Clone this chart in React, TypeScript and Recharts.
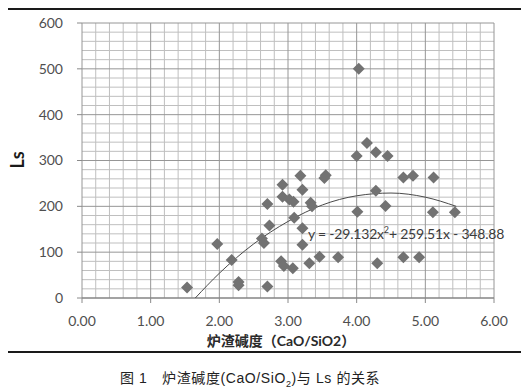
import {
  ComposedChart,
  Scatter,
  Line,
  XAxis,
  YAxis,
  ReferenceLine,
} from "recharts";

// slag basicity (CaO/SiO2) vs Ls
const BASICITY = [
  1.53, 1.97, 2.18, 2.28, 2.28, 2.62, 2.65, 2.7, 2.7, 2.73, 2.9, 2.92, 2.92, 2.94, 3.02,
  3.07, 3.08, 3.09, 3.18, 3.21, 3.21, 3.21, 3.31, 3.33, 3.35, 3.46, 3.53, 3.55, 3.73,
  4.0, 4.01, 4.03, 4.15, 4.28, 4.28, 4.3, 4.42, 4.45, 4.68, 4.68, 4.82, 4.91, 5.11,
  5.12, 5.43,
];
const LS = [
  23, 118, 83, 35, 28, 130, 120, 25, 205, 158, 80, 247, 221, 70, 215,
  65, 210, 175, 267, 236, 152, 116, 76, 208, 200, 90, 262, 268, 89,
  310, 188, 500, 338, 318, 234, 76, 201, 310, 263, 89, 267, 89, 187,
  263, 187,
];

// polynomial trend line, sampled from the drawn curve
const TREND_X = [1.65, 2.0, 2.5, 3.0, 3.5, 4.0, 4.5, 5.0, 5.45];
const TREND_Y = [0, 54, 118, 167, 203, 223, 229, 220, 200];

const X_TICKS = [0, 1, 2, 3, 4, 5, 6];
const Y_TICKS = [0, 100, 200, 300, 400, 500, 600];

const points = BASICITY.map((x, i) => ({ x, y: LS[i] }));
const trend = TREND_X.map((x, i) => ({ x, y: TREND_Y[i] }));

// minor grid: every 0.2 on x, every 20 on y
const minorX: number[] = [];
for (let i = 1; i < 30; i++) if (i % 5 !== 0) minorX.push(+(i * 0.2).toFixed(1));
const minorY: number[] = [];
for (let v = 20; v < 600; v += 20) if (v % 100 !== 0) minorY.push(v);

const FONT = "Lato, 'Open Sans', sans-serif";

function Diamond(props: { cx?: number; cy?: number }) {
  const { cx, cy } = props;
  if (cx == null || cy == null) return null;
  const r = 6;
  return (
    <path
      d={`M${cx},${cy - r}L${cx + r},${cy}L${cx},${cy + r}L${cx - r},${cy}Z`}
      fill="#727272"
    />
  );
}

export default function App() {
  return (
    <div
      style={{
        position: "relative",
        width: 529,
        height: 389,
        margin: "-8px 0 0 -8px",
        background: "#fff",
        fontFamily: FONT,
      }}
    >
      <div
        style={{
          position: "absolute",
          left: 4,
          top: 8,
          width: 520,
          height: 345,
          border: "2px solid #1a1a1a",
          boxSizing: "border-box",
        }}
      />
      <div style={{ position: "absolute", left: 0, top: 0 }}>
        <ComposedChart
          width={529}
          height={360}
          margin={{ top: 23, right: 35, left: 22, bottom: 22 }}
          style={{ fontFamily: FONT }}
        >
          <XAxis
            type="number"
            dataKey="x"
            domain={[0, 6]}
            ticks={X_TICKS}
            tickFormatter={(v: number) => v.toFixed(2)}
            height={40}
            tickSize={5}
            tickMargin={13}
            axisLine={false}
            tickLine={{ stroke: "#8a8a8a" }}
            tick={{ fontSize: 14, fill: "#4f4f4f" }}
            allowDataOverflow
          />
          <YAxis
            type="number"
            dataKey="y"
            domain={[0, 600]}
            ticks={Y_TICKS}
            width={60}
            tickSize={5}
            tickMargin={14}
            axisLine={false}
            tickLine={{ stroke: "#8a8a8a" }}
            tick={{ fontSize: 14, fill: "#4f4f4f" }}
          />
          {minorX.map((v) => (
            <ReferenceLine key={`mx${v}`} x={v} stroke="#bfbfbf" strokeWidth={1} />
          ))}
          {minorY.map((v) => (
            <ReferenceLine key={`my${v}`} y={v} stroke="#bfbfbf" strokeWidth={1} />
          ))}
          {X_TICKS.map((v) => (
            <ReferenceLine key={`x${v}`} x={v} stroke="#969696" strokeWidth={1} />
          ))}
          {Y_TICKS.map((v) => (
            <ReferenceLine
              key={`y${v}`}
              y={v}
              stroke={v === 0 ? "#858585" : "#969696"}
              strokeWidth={v === 0 ? 1.6 : 1}
            />
          ))}
          <Scatter data={points} dataKey="y" shape={<Diamond />} isAnimationActive={false} />
          <Line
            data={trend}
            dataKey="y"
            type="monotone"
            stroke="#4a4a4a"
            strokeWidth={1}
            dot={false}
            activeDot={false}
            isAnimationActive={false}
          />
        </ComposedChart>
      </div>
      <div
        style={{
          position: "absolute",
          left: 17,
          top: 160,
          transform: "translate(-50%, -50%) rotate(-90deg)",
          fontSize: 18,
          fontWeight: 700,
          color: "#1a1a1a",
          lineHeight: "20px",
        }}
      >
        Ls
      </div>
      <div
        style={{
          position: "absolute",
          left: 308,
          top: 225,
          fontSize: 14,
          lineHeight: "18px",
          color: "#3c3c3c",
          whiteSpace: "nowrap",
          letterSpacing: -0.2,
        }}
      >
        y = -29.132x<sup style={{ fontSize: 9, lineHeight: 0 }}>2</sup>+ 259.51x - 348.88
      </div>
      <div
        style={{
          position: "absolute",
          left: 281,
          top: 341,
          transform: "translate(-50%, -50%)",
          fontSize: 14,
          lineHeight: "18px",
          fontWeight: 700,
          color: "#2a2a2a",
          whiteSpace: "nowrap",
          fontFamily: "Lato, 'Noto Sans CJK SC', sans-serif",
        }}
      >
        炉渣碱度（CaO/SiO2）
      </div>
      <div
        style={{
          position: "absolute",
          left: 120,
          top: 369,
          fontSize: 14,
          lineHeight: "18px",
          color: "#222",
          whiteSpace: "nowrap",
          letterSpacing: 0.6,
          fontFamily: "'Liberation Sans', 'Noto Sans CJK SC', sans-serif",
        }}
      >
        图 1{"\u3000"}炉渣碱度(CaO/SiO<sub style={{ fontSize: 9, lineHeight: 0 }}>2</sub>)与 Ls 的关系
      </div>
    </div>
  );
}
